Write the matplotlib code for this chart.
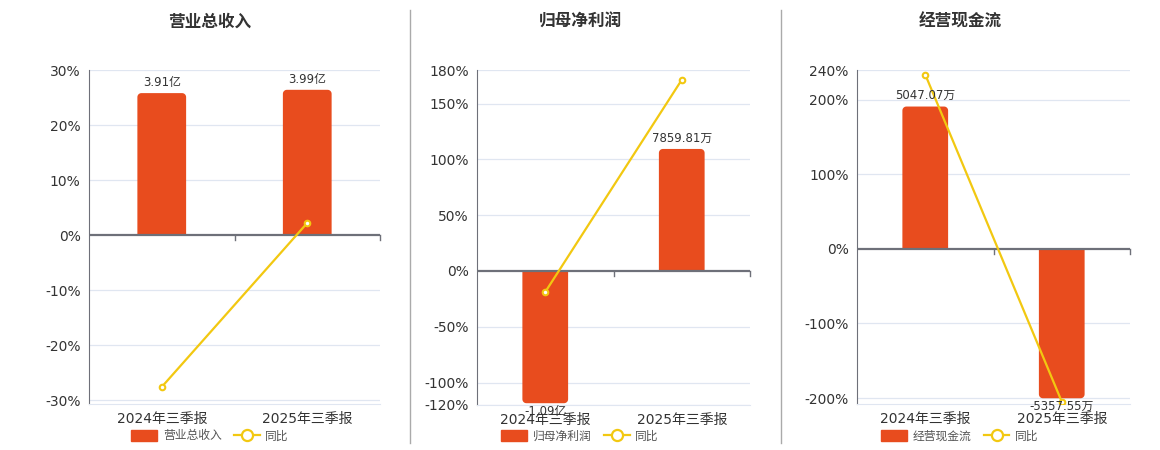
import matplotlib
matplotlib.use("Agg")
import numpy as np
import matplotlib.pyplot as plt
from matplotlib.patches import Patch, Polygon
from matplotlib.lines import Line2D

plt.rcParams['font.family'] = ['DejaVu Sans', 'Noto Sans CJK SC']

# data
cats = ['2024年三季报', '2025年三季报']

rev_bar = [25.8, 26.4]            # bar heights on the % axis
rev_labels = ['3.91亿', '3.99亿']
rev_yoy = [-27.6, 2.2]

profit_bar = [-118.4, 109.3]
profit_labels = ['-1.09亿', '7859.81万']
profit_yoy = [-18.8, 171.2]

cash_bar = [191.0, -200.3]
cash_labels = ['5047.07万', '-5357.55万']
cash_yoy = [233.9, -204.8]

titles = ['营业总收入', '归母净利润', '经营现金流']
yticks_all = [[-30, -20, -10, 0, 10, 20, 30],
              [-120, -100, -50, 0, 50, 100, 150, 180],
              [-200, -100, 0, 100, 200, 240]]
ylims = [(-30.7, 30), (-120, 180), (-208, 240)]

BAR = '#E84C1E'
LINE = '#F2C811'
AXC = '#6E7079'
GRID = '#E0E6F1'
TXT = '#333333'

W, H = 1160, 450
fig = plt.figure(figsize=(11.6, 4.5), dpi=100)

# pixel boxes: left, right, top, bottom
boxes = [(89, 380, 70, 404), (477, 750, 70, 405), (857, 1130, 70, 404)]
centers = [210, 580, 960]

panels = [(rev_bar, rev_labels, rev_yoy),
          (profit_bar, profit_labels, profit_yoy),
          (cash_bar, cash_labels, cash_yoy)]


def round_bar(xc, v, bw, rx, ry):
    # bar from 0 to v, corners rounded at the far end only
    s = 1 if v >= 0 else -1
    xl, xr = xc - bw / 2, xc + bw / 2
    t = np.linspace(0, np.pi / 2, 8)
    left = np.column_stack([xl + rx - rx * np.cos(t), v - s * ry + s * ry * np.sin(t)])
    right = np.column_stack([xr - rx + rx * np.sin(t), v - s * ry + s * ry * np.cos(t)])
    pts = np.vstack([[xl, 0], left, right, [xr, 0]])
    return pts


bw = 0.335
for i, (bars, labels, yoy) in enumerate(panels):
    l, r, t, b = boxes[i]
    ax = fig.add_axes([l / W, 1 - b / H, (r - l) / W, (b - t) / H])
    ax.set_xlim(-0.5, 1.5)
    ax.set_ylim(*ylims[i])
    ax.set_yticks(yticks_all[i])
    ax.set_yticklabels([f'{v}%' for v in yticks_all[i]])
    for v in yticks_all[i]:
        if v != 0:
            ax.axhline(v, color=GRID, lw=0.9, zorder=0)

    y0, y1 = ylims[i]
    ypx = (y1 - y0) / (b - t)      # data units per pixel, y
    xpx = 2.0 / (r - l)            # data units per pixel, x

    x = list(range(len(cats)))
    for xi, v in zip(x, bars):
        ax.add_patch(Polygon(round_bar(xi, v, bw, 4 * xpx, 4 * ypx), closed=True,
                             fc=BAR, ec='none', lw=0, zorder=2))

    ax.plot(x, yoy, color=LINE, lw=1.6, marker='o', ms=4,
            mfc='white', mec=LINE, mew=1.5, zorder=4)

    for xi, v, s in zip(x, bars, labels):
        if v >= 0:
            ax.annotate(s, (xi, v), xytext=(0, 3), textcoords='offset points',
                        ha='center', va='bottom', fontsize=8.5, color=TXT, zorder=5)
        else:
            ax.annotate(s, (xi, v), xytext=(0, -1), textcoords='offset points',
                        ha='center', va='top', fontsize=8.5, color=TXT, zorder=5)

    # zero axis line and boundary ticks
    ax.axhline(0, color=AXC, lw=1.6, zorder=3)
    d = ypx * 5
    for xb in [0.5, 1.5]:
        ax.plot([xb, xb], [0, -d], color=AXC, lw=1, zorder=3, clip_on=False)

    ax.set_xticks(x)
    ax.set_xticklabels(cats)
    ax.tick_params(axis='x', length=0, pad=6, labelsize=10, labelcolor=TXT)
    ax.tick_params(axis='y', length=0, pad=6, labelsize=10, labelcolor=TXT)
    for s in ['top', 'right']:
        ax.spines[s].set_visible(False)
    ax.spines['left'].set_color(AXC)
    ax.spines['bottom'].set_color(GRID)

    fig.text(centers[i] / W, 1 - 22 / H, titles[i], ha='center', va='center',
             fontsize=12, fontweight='bold', color=TXT)

    handles = [Patch(facecolor=BAR, edgecolor=BAR),
               Line2D([0], [0], color=LINE, lw=1.6, marker='o', ms=8,
                      mfc='white', mec=LINE, mew=1.6)]
    fig.legend(handles, [titles[i], '同比'], loc='center',
               bbox_to_anchor=(centers[i] / W, 1 - 436 / H), ncol=2,
               frameon=False, fontsize=8.5, handlelength=2.2, handleheight=1.0,
               columnspacing=1.0, handletextpad=0.5, labelcolor='#555555')

# panel separators
for xs in [410, 781]:
    fig.add_artist(Line2D([xs / W, xs / W], [1 - 443 / H, 1 - 10 / H],
                          color='#AAAAAA', lw=1))

fig.savefig('out.png', dpi=100)
